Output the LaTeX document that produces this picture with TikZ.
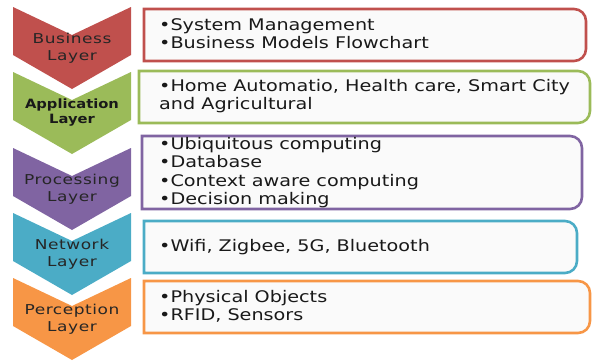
\documentclass[tikz,border=0pt]{standalone}
\usepackage{fontspec}
\setmainfont{DejaVu Sans}[FakeStretch=1.2]
\newfontfamily\chevfont{DejaVu Sans}[FakeStretch=1.25,LetterSpace=4]
\newfontfamily\chevboldfont{DejaVu Sans Bold}[FakeStretch=1.15]
\usepackage{tikz}
\definecolor{busred}{HTML}{C0504D}
\definecolor{appgreen}{HTML}{9BBB59}
\definecolor{procpurple}{HTML}{8064A2}
\definecolor{netblue}{HTML}{4BACC6}
\definecolor{percorange}{HTML}{F79646}
\definecolor{boxfill}{HTML}{FAFAFA}
\tikzstyle{plainlayer} = [font=\chevfont\fontsize{13.6}{16.5}\selectfont, align=center, text=black!85, inner sep=0pt]
\tikzstyle{boldlayer} = [font=\chevboldfont\fontsize{12.8}{15}\selectfont, align=center, text=black!90, inner sep=0pt]
\tikzstyle{itemtext} = [font=\fontsize{16}{18.3}\selectfont, align=left, anchor=west, inner sep=0pt, text=black!90]
\tikzset{layerbox/.style={draw=#1, line width=2.6pt, fill=boxfill}}

\begin{document}
\begin{tikzpicture}[x=1pt,y=1pt]
\useasboundingbox (0,0) rectangle (592,360);
% chevrons, top edge counted from the top of the page
\foreach \t/\c/\n/\s/\txt in {7/busred/business/plainlayer/{Business\\Layer},
                              72/appgreen/application/boldlayer/{Application\\Layer},
                              148/procpurple/processing/plainlayer/{Processing\\Layer},
                              213/netblue/network/plainlayer/{Network\\Layer},
                              278/percorange/perception/plainlayer/{Perception\\Layer}}{
  \fill[\c] (13,360-\t) -- (72,360-\t-28) -- (131,360-\t) -- (131,360-\t-48)
            -- (72,360-\t-82) -- (13,360-\t-48) -- cycle;
  \node[\s] (\n) at (72,360-\t-41) {\txt};
}
% boxes: square on the left, rounded on the right
\foreach \l/\r/\t/\b/\c in {144/586/9/61/busred, 139/590/71/123/appgreen,
                            142/582/136/209/procpurple, 144/577/221/273/netblue,
                            144/590/281/333/percorange}{
  \draw[layerbox=\c] (\l,360-\t) -- (\r-12,360-\t) arc[start angle=90,end angle=0,radius=12]
        -- (\r,360-\b+12) arc[start angle=0,end angle=-90,radius=12] -- (\l,360-\b) -- cycle;
}
\node[itemtext] (business-items) at (159,360-34) {•System Management\\•Business Models Flowchart};
\node[itemtext] (application-items) at (159,360-96) {•Home Automatio, Health care, Smart City\\and Agricultural};
\node[itemtext] (processing-items) at (159,360-172.5) {•Ubiquitous computing\\•Database\\•Context aware computing\\•Decision making};
\node[itemtext] (network-items) at (159,360-247) {•Wifi, Zigbee, 5G, Bluetooth};
\node[itemtext] (perception-items) at (159,360-306.5) {•Physical Objects\\•RFID, Sensors};
\end{tikzpicture}
\end{document}
